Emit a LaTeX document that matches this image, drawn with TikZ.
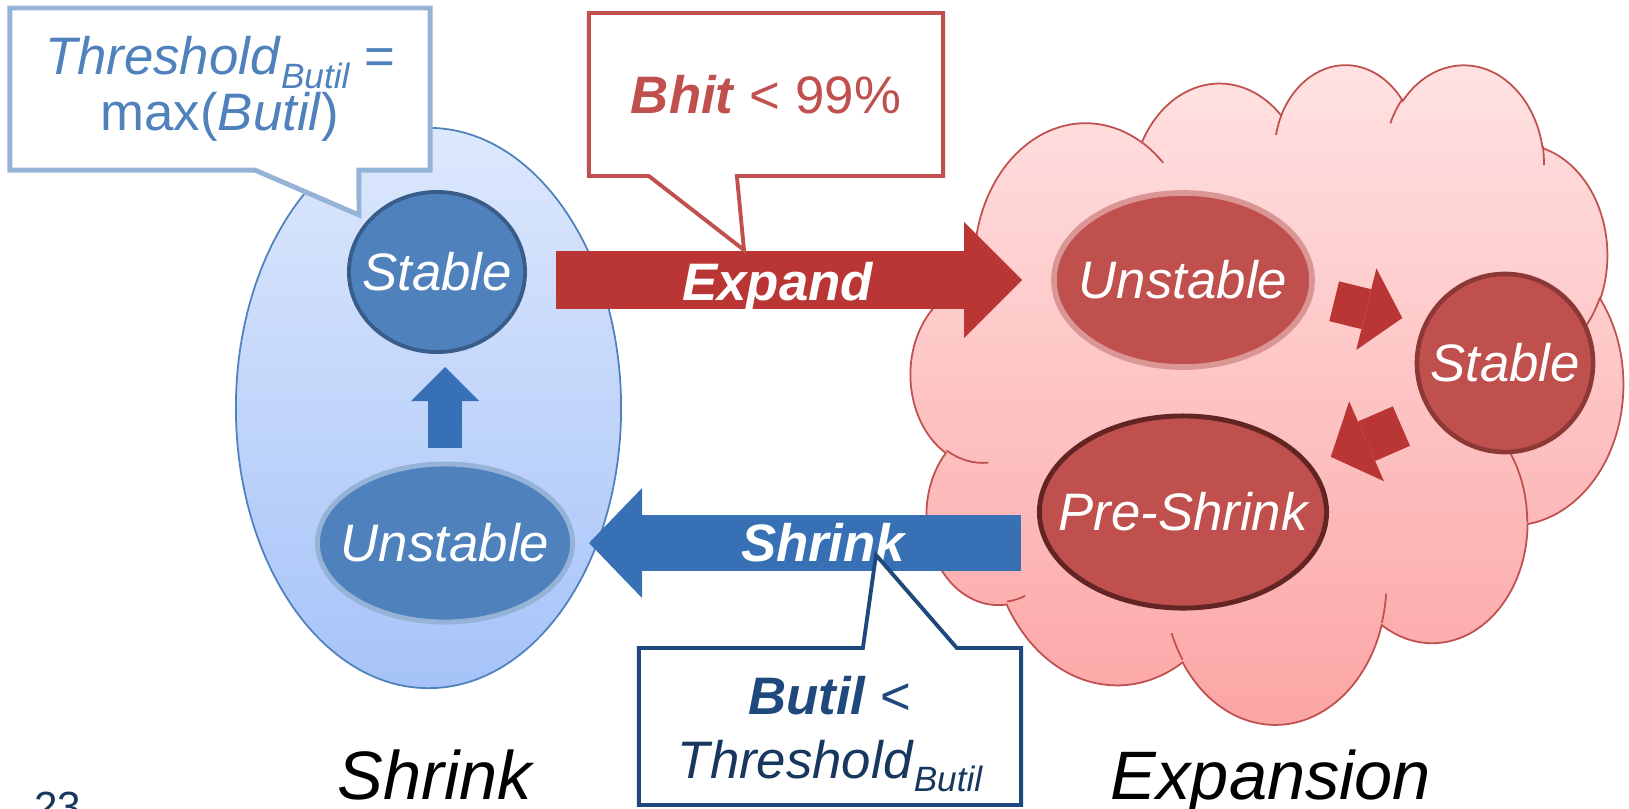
\documentclass[tikz,border=0pt]{standalone}
\usepackage{fontspec}
\setmainfont{Liberation Sans}
\usepackage{tikz}
\usetikzlibrary{arrows.meta,calc,shapes.geometric}
\definecolor{StateBlue}{HTML}{4F81BD}
\definecolor{StateRed}{HTML}{C0504D}
\definecolor{LineBlue}{HTML}{385D8A}
\definecolor{RimBlue}{HTML}{95B3D7}
\definecolor{RimRed}{HTML}{D99694}
\definecolor{LineRed}{HTML}{8C3836}
\definecolor{DeepRed}{HTML}{632523}
\definecolor{ArrowRed}{HTML}{B93634}
\definecolor{ArrowBlue}{HTML}{3770B5}
\definecolor{UpBlue}{HTML}{3870B8}
\definecolor{Navy}{HTML}{1F497D}
\definecolor{DeepNavy}{HTML}{17375E}
\definecolor{ZoneTop}{HTML}{DDE8FC}
\definecolor{ZoneBottom}{HTML}{A6C3F9}
\definecolor{CloudTop}{HTML}{FFE3E3}
\definecolor{CloudBottom}{HTML}{FCA4A4}

\newcommand\butilsub[1]{\raisebox{-0.26em}{\fontsize{10}{10}\selectfont\itshape #1}}
\newcommand\cloudarc[4]{arc[x radius=#1, y radius=#2,
    start angle={atan2(#1*sin(#3),#2*cos(#3))},
    delta angle={mod(atan2(#1*sin(#3+#4),#2*cos(#3+#4))-atan2(#1*sin(#3),#2*cos(#3))+720,360)}]}

\tikzset{
  state/.style={ellipse, inner sep=0pt},
  statetext/.style={text=white, font=\fontsize{15}{17}\selectfont\itshape},
  arrowtext/.style={text=white, font=\fontsize{15}{17}\selectfont\bfseries\itshape, anchor=base},
  blockarrow/.style n args={3}{line width=#1, -{Triangle[length=#2, width=#3, line width=0pt]}},
  calloutbox/.style={rectangle, inner sep=0pt, outer sep=0pt},
  callout/.style={fill=white, line join=miter},
  callouttext/.style={align=center, inner sep=0pt},
  zonelabel/.style={font=\fontsize{19.5}{22}\selectfont\itshape, anchor=base},
}

\begin{document}
\begin{tikzpicture}[x=0.01cm, y=-0.01cm, font=\fontsize{15}{17}\selectfont]
  \useasboundingbox (0,0) rectangle (1629,808);

  % the two zones
  \node[ellipse, top color=ZoneTop, bottom color=ZoneBottom, draw=StateBlue, line width=0.5pt,
        minimum width=3.85cm, minimum height=5.6cm] (shrinkzone) at (428.5,408) {};
  \begin{scope}[shift={(911,63)}, x=0.0016528cm, y=-0.0015208cm]
    \draw[top color=CloudTop, bottom color=CloudBottom, draw=StateRed, line width=0.5pt]
      (390,1437) \cloudarc{675.3}{919.0}{-190.4875}{123.7805}
      \cloudarc{533.3}{726.7}{-144.1024}{89.9452}
      \cloudarc{436.5}{594.5}{-145.8079}{99.7230}
      \cloudarc{485.7}{659.5}{-130.9861}{117.2417}
      \cloudarc{533.3}{727.3}{-78.7089}{109.0269}
      \cloudarc{677.5}{922.0}{-46.2673}{130.2690}
      \cloudarc{578.5}{786.7}{0.6250}{114.0333}
      \cloudarc{675.2}{921.5}{22.4516}{115.1726}
      \cloudarc{772.0}{1054.3}{66.2426}{75.7110}
      \cloudarc{436.0}{591.8}{-274.9421}{146.7356}
      \cloudarc{434.5}{594.5}{-246.8285}{152.5189}
      -- cycle;
    \draw[StateRed, line width=0.5pt]
      (469.3,2617.7) \cloudarc{434.5}{594.5}{86.742}{26.4295}
      (692.8,3489.9) \cloudarc{436.0}{591.8}{73.6105}{11.4475}
      (1647.8,3909.0) \cloudarc{675.2}{921.5}{137.6242}{14.0811}
      (2882.7,3475.1) \cloudarc{675.2}{921.5}{6.4533}{15.9984}
      (3412.9,2295.4) \cloudarc{578.5}{786.7}{-70.2924}{70.9174}
      (4179.8,1535.4) \cloudarc{533.3}{727.3}{30.3180}{27.7515}
      (3832.4,542.6) \cloudarc{485.7}{659.5}{-13.7443}{14.8589}
      (2907.8,395.2) \cloudarc{485.7}{659.5}{-149.1815}{18.1954}
      (2214.1,472.0) \cloudarc{436.5}{594.5}{-163.4943}{17.6864}
      (1400.0,519.2) \cloudarc{675.3}{919.0}{-66.7070}{12.3194}
      (412.7,1578.9) \cloudarc{675.3}{919.0}{157.6544}{11.8582};
  \end{scope}

  % states
  \node[state, fill=StateBlue, draw=LineBlue, line width=1.1pt, minimum width=1.76cm, minimum height=1.60cm,
        label={[statetext]center:Stable}] (bstable) at (437,272) {};
  \node[state, fill=StateBlue, draw=RimBlue, line width=1.4pt, minimum width=2.55cm, minimum height=1.58cm,
        label={[statetext]center:Unstable}] (bunstable) at (445,543) {};
  \node[state, fill=StateRed, draw=RimRed, line width=1.6pt, minimum width=2.58cm, minimum height=1.74cm,
        label={[statetext]center:Unstable}] (runstable) at (1183,280) {};
  \node[state, fill=StateRed, draw=LineRed, line width=1.3pt, minimum width=1.76cm, minimum height=1.78cm,
        label={[statetext]center:Stable}] (rstable) at (1505,363) {};
  \node[state, fill=StateRed, draw=DeepRed, line width=1.4pt, minimum width=2.87cm, minimum height=1.92cm,
        label={[statetext]center:Pre-Shrink}] (preshrink) at (1183,512) {};

  % transitions
  \draw[blockarrow={0.34cm}{0.34cm}{0.68cm}, UpBlue, shorten <=0.13cm, shorten >=0.13cm]
    (bunstable.north) -- (bunstable.north |- bstable.south);
  \draw[blockarrow={0.57cm}{0.58cm}{1.16cm}, ArrowRed, shorten <=0.29cm, shorten >=0.29cm]
    (runstable.west -| bstable.east) -- (runstable.west)
    node[arrowtext, pos=0.478, yshift=-0.2cm] (expandtext) {Expand};
  \draw[blockarrow={0.55cm}{0.53cm}{1.10cm}, ArrowBlue, shorten <=0.16cm, shorten >=0.14cm]
    (bunstable.east -| preshrink.west) -- (bunstable.east)
    node[arrowtext, pos=0.463, yshift=-0.18cm] (shrinktext) {Shrink};
  \draw[blockarrow={0.41cm}{0.37cm}{0.84cm}, ArrowRed, shorten <=0.22cm, shorten >=0.22cm]
    (runstable.-7) -- (rstable.154);
  \draw[blockarrow={0.43cm}{0.39cm}{0.87cm}, ArrowRed, shorten <=0.31cm, shorten >=0.21cm]
    (rstable.214) -- (preshrink.20);

  % callouts
  \node[calloutbox, minimum width=4.2cm, minimum height=1.62cm] (threshbox) at (220,89) {};
  \coordinate (threshtip) at (359,215);
  \draw[callout, draw=RimBlue, line width=1.4pt] (threshbox.north west) -- (threshbox.north east)
    -- (threshbox.south east) -- ($(threshbox.south west)+(349,0)$) -- (threshtip)
    -- ($(threshbox.south west)+(245,0)$) -- (threshbox.south west) -- cycle;
  \node[callouttext, text=StateBlue, font=\fontsize{15}{16}\selectfont] (threshtext) at (threshbox)
    {\textit{Threshold}\butilsub{Butil} =\\max(\textit{Butil})};

  \node[calloutbox, minimum width=3.54cm, minimum height=1.63cm] (bhitbox) at (766,94.5) {};
  \coordinate (bhittip) at (744,250);
  \draw[callout, draw=StateRed, line width=1.1pt] (bhitbox.north west) -- (bhitbox.north east)
    -- (bhitbox.south east) -- ($(bhitbox.south west)+(148,0)$) -- (bhittip)
    -- ($(bhitbox.south west)+(60,0)$) -- (bhitbox.south west) -- cycle;
  \node[callouttext, text=StateRed] (bhittext) at (bhitbox) {\textbf{\textit{Bhit}} < 99\%};

  \node[calloutbox, minimum width=3.82cm, minimum height=1.57cm] (butilbox) at (830,726.5) {};
  \coordinate (butiltip) at (876,555);
  \draw[callout, draw=Navy, line width=1.1pt] (butilbox.north west) -- ($(butilbox.south west)+(224,-157)$)
    -- (butiltip) -- ($(butilbox.south west)+(318,-157)$) -- (butilbox.north east)
    -- (butilbox.south east) -- (butilbox.south west) -- cycle;
  \node[callouttext, font=\fontsize{15}{18}\selectfont] (butiltext) at ($(butilbox)+(0,8)$)
    {\color{Navy}\textbf{\textit{Butil}} <\\\color{DeepNavy}\textit{Threshold}\butilsub{Butil}};

  % zone names
  \node[zonelabel] (shrinkname) at (435,799) {Shrink};
  \node[zonelabel] (expansionname) at (1271,799) {Expansion};
  \node[anchor=base, text=DeepNavy, font=\fontsize{12}{14}\selectfont] (slidenum) at (58,821) {23};
\end{tikzpicture}
\end{document}
